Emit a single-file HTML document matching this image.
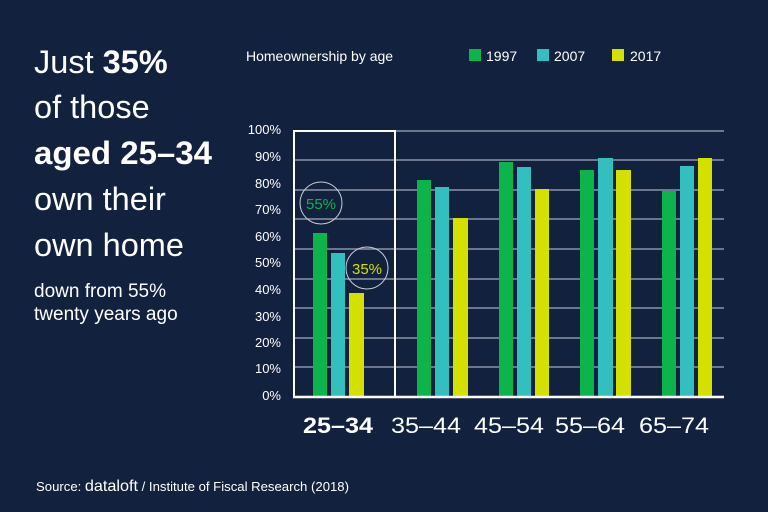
<!DOCTYPE html>
<html><head><meta charset="utf-8"><style>
html,body{margin:0;padding:0;background:#12213d;}
svg{display:block;font-family:"Liberation Sans",sans-serif;}
</style></head><body>
<svg width="768" height="512" viewBox="0 0 768 512" xmlns="http://www.w3.org/2000/svg">
<rect width="768" height="512" fill="#12213d"/>
<g fill="#fff" font-size="32.5">
<text x="34" y="73">Just <tspan font-weight="bold">35%</tspan></text>
<text x="34" y="118">of those</text>
<text x="34" y="164" font-weight="bold" textLength="178" lengthAdjust="spacingAndGlyphs">aged 25–34</text>
<text x="34" y="210">own their</text>
<text x="34" y="256">own home</text>
<text x="34" y="297" font-size="19">down from 55%</text>
<text x="34" y="320" font-size="19">twenty years ago</text>
</g>
<g fill="#fff" font-size="14">
<text x="246" y="61">Homeownership by age</text>
<rect x="469" y="49" width="12" height="12" fill="#0db34b"/><text x="486" y="61">1997</text>
<rect x="537" y="49" width="12" height="12" fill="#33bfbd"/><text x="554" y="61">2007</text>
<rect x="612" y="49" width="12" height="12" fill="#d4e000"/><text x="630" y="61">2017</text>
</g>
<g stroke="#8a93a6" stroke-width="1.5">
<line x1="293" x2="724" y1="131" y2="131"/><line x1="293" x2="724" y1="160" y2="160"/>
<line x1="293" x2="724" y1="190" y2="190"/><line x1="293" x2="724" y1="219" y2="219"/>
<line x1="293" x2="724" y1="249" y2="249"/><line x1="293" x2="724" y1="279" y2="279"/>
<line x1="293" x2="724" y1="308" y2="308"/><line x1="293" x2="724" y1="338" y2="338"/>
<line x1="293" x2="724" y1="367" y2="367"/>
</g>
<g fill="#fff" font-size="13" text-anchor="end">
<text x="281" y="134">100%</text><text x="281" y="161">90%</text><text x="281" y="188">80%</text>
<text x="281" y="214">70%</text><text x="281" y="241">60%</text><text x="281" y="267">50%</text>
<text x="281" y="294">40%</text><text x="281" y="321">30%</text><text x="281" y="347">20%</text>
<text x="281" y="373">10%</text><text x="281" y="400">0%</text>
</g>
<g>
<rect x="313" y="233" width="14" height="164" fill="#0db34b"/>
<rect x="331" y="253" width="14" height="144" fill="#33bfbd"/>
<rect x="349" y="293" width="15" height="104" fill="#d4e000"/>
<rect x="417" y="180" width="14" height="217" fill="#0db34b"/>
<rect x="435" y="187" width="14" height="210" fill="#33bfbd"/>
<rect x="453" y="218" width="15" height="179" fill="#d4e000"/>
<rect x="499" y="162" width="14" height="235" fill="#0db34b"/>
<rect x="517" y="167" width="14" height="230" fill="#33bfbd"/>
<rect x="535" y="189" width="14" height="208" fill="#d4e000"/>
<rect x="580" y="170" width="14" height="227" fill="#0db34b"/>
<rect x="598" y="158" width="15" height="239" fill="#33bfbd"/>
<rect x="616" y="170" width="15" height="227" fill="#d4e000"/>
<rect x="662" y="191" width="14" height="206" fill="#0db34b"/>
<rect x="680" y="166" width="14" height="231" fill="#33bfbd"/>
<rect x="698" y="158" width="14" height="239" fill="#d4e000"/>
</g>
<rect x="294" y="131" width="101" height="266" fill="none" stroke="#fff" stroke-width="2"/>
<line x1="293" x2="724" y1="397" y2="397" stroke="#fff" stroke-width="2.5"/>
<circle cx="321" cy="203" r="21" fill="none" stroke="#c8ccd4" stroke-width="1"/>
<text x="321" y="209" fill="#0db34b" font-size="15" text-anchor="middle">55%</text>
<circle cx="367" cy="268" r="21" fill="none" stroke="#c8ccd4" stroke-width="1"/>
<text x="367" y="274" fill="#d4e000" font-size="15" text-anchor="middle">35%</text>
<g fill="#fff" font-size="22" text-anchor="middle">
<text x="338" y="433" font-weight="bold" textLength="70" lengthAdjust="spacingAndGlyphs">25–34</text>
<text x="426" y="433" textLength="70" lengthAdjust="spacingAndGlyphs">35–44</text>
<text x="509" y="433" textLength="70" lengthAdjust="spacingAndGlyphs">45–54</text>
<text x="590" y="433" textLength="70" lengthAdjust="spacingAndGlyphs">55–64</text>
<text x="674" y="433" textLength="70" lengthAdjust="spacingAndGlyphs">65–74</text>
</g>
<text x="36" y="491" fill="#fff" font-size="13" textLength="313" lengthAdjust="spacingAndGlyphs">Source: <tspan font-size="16">dataloft</tspan> / Institute of Fiscal Research (2018)</text>
</svg>
</body></html>
